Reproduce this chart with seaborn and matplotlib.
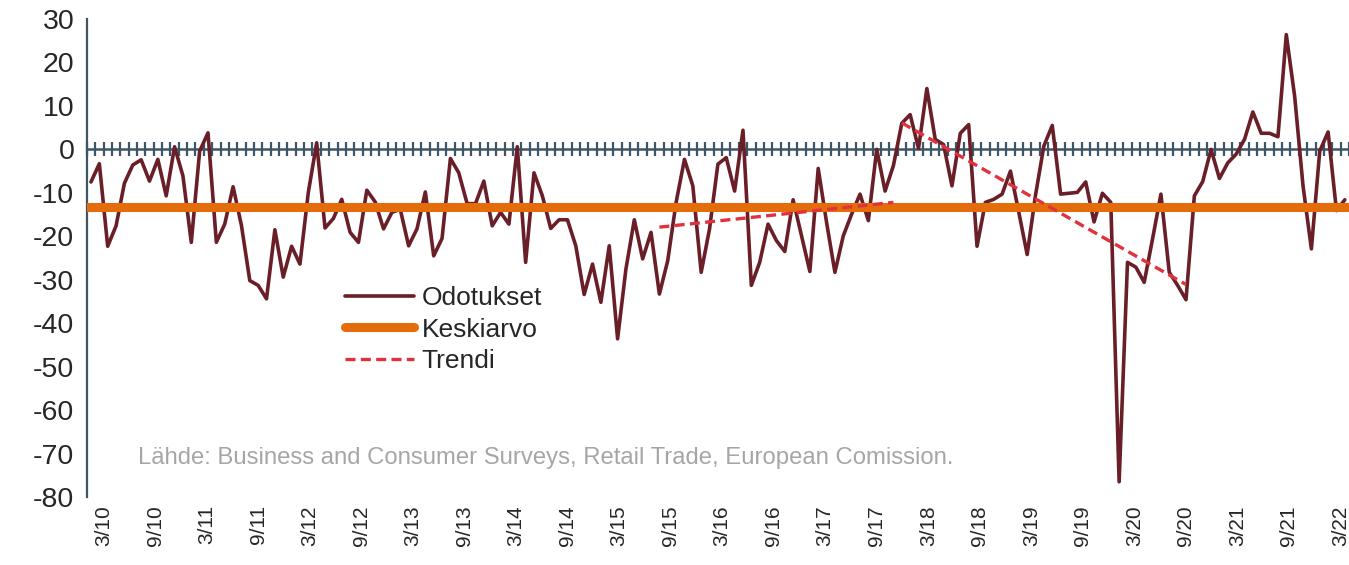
import numpy as np
import pandas as pd
import matplotlib
matplotlib.use("Agg")
import matplotlib.pyplot as plt
import seaborn as sns

# Monthly retail trade expectations (balance), Jan 2010 - Jul 2022
months = pd.date_range("2010-01-01", periods=151, freq="MS")
odotukset = [
    -7.5, -3.3, -22.3, -17.6, -7.8, -3.6, -2.4, -7.3, -2.3, -10.7,
    0.6, -6.1, -21.4, -0.4, 3.8, -21.4, -17.2, -8.6, -17.5, -30.2,
    -31.3, -34.4, -18.5, -29.4, -22.3, -26.4, -9.9, 1.5, -18.1, -15.9,
    -11.5, -19.1, -21.4, -9.4, -12.1, -18.3, -14.5, -13.8, -22.2, -18.3,
    -9.8, -24.5, -20.5, -2.1, -5.4, -12.5, -12.5, -7.3, -17.6, -14.5,
    -17.2, 0.6, -26.0, -5.4, -10.7, -18.2, -16.2, -16.2, -22.2, -33.4,
    -26.4, -35.2, -22.2, -43.6, -27.5, -16.2, -25.2, -19.1, -33.3, -25.6,
    -12.2, -2.3, -8.4, -28.3, -18.3, -3.4, -1.9, -9.6, 4.4, -31.3,
    -26.0, -17.2, -21.0, -23.5, -11.6, -19.9, -28.1, -4.4, -16.8, -28.3,
    -19.9, -14.9, -10.3, -16.4, 0.0, -9.6, -3.7, 6.0, 8.0, 0.2,
    14.0, 2.3, 1.1, -8.4, 3.7, 5.7, -22.3, -12.2, -11.5, -10.3,
    -5.0, -14.5, -24.2, -10.5, 0.8, 5.5, -10.3, -10.1, -9.9, -7.5,
    -16.7, -10.1, -12.2, -76.5, -26.0, -27.1, -30.6, -20.6, -10.3, -28.3,
    -31.3, -34.6, -10.7, -7.4, 0.0, -6.7, -3.1, -1.1, 2.3, 8.6,
    3.7, 3.7, 2.9, 26.4, 12.2, -8.4, -22.9, -0.4, 4.0, -14.1,
    -11.6,
]
keskiarvo = -13.2
# trend segments: (month index, value) at start and end
trendi1_idx = [68, 96]
trendi1_val = [-17.9, -12.2]
trendi2_idx = [97, 131]
trendi2_val = [6.1, -31.1]

# the category axis that carries the labels: Jan 2010 - Apr 2022
label_months = pd.date_range("2010-01-01", periods=148, freq="MS")
label_text = [f"{d.month}/{d.year % 100:02d}" for d in label_months]

df = pd.DataFrame({"i": np.arange(len(odotukset)), "Odotukset": odotukset})

maroon = "#6A1F28"
orange = "#E46C0A"
red = "#E0323C"
slate = "#3E5566"

sns.set_theme(style="white")
plt.rcParams["font.family"] = ["Liberation Sans", "DejaVu Sans"]
plt.rcParams["axes.unicode_minus"] = False

fig = plt.figure(figsize=(13.49, 5.65), dpi=100)
ax = fig.add_axes([86.8 / 1349, 68 / 565, 1 - 86.8 / 1349, 478 / 565])

sns.lineplot(data=df, x="i", y="Odotukset", ax=ax, color=maroon, lw=2.6,
             label="Odotukset", zorder=3)
ax.axhline(keskiarvo, color=orange, lw=6.5, solid_capstyle="round",
           label="Keskiarvo", zorder=4)
ax.plot(trendi1_idx, trendi1_val, color=red, lw=2.4, dashes=(3, 1.6),
        label="Trendi", zorder=5)
ax.plot(trendi2_idx, trendi2_val, color=red, lw=2.4, dashes=(3, 1.6), zorder=5)

n = len(odotukset)
ax.set_xlim(-0.5, n - 0.5)
ax.set_ylim(-80, 30)
ax.set_yticks(range(-80, 31, 10))
ax.set_xlabel("")
ax.set_ylabel("")
ax.set_xticks([])
ax.tick_params(axis="y", direction="inout", length=12, width=1.6,
               color=slate, labelsize=20.5, pad=3)

for s in ["top", "right", "bottom"]:
    ax.spines[s].set_visible(False)
ax.spines["left"].set_color(slate)
ax.spines["left"].set_linewidth(1.6)

# label axis: 148 categories spread over the full width
m = len(label_months) - 1
lab = ax.secondary_xaxis("bottom",
                         functions=(lambda x: (x + 0.5) * m / n,
                                    lambda c: c * n / m - 0.5))
lab.spines["bottom"].set_visible(False)
pos = [k for k, d in enumerate(label_months) if d.month in (3, 9)]
lab.set_xticks(pos)
lab.set_xticklabels([label_text[k] for k in pos], rotation=90, fontsize=15)
lab.tick_params(length=0, pad=6)

# zero line with monthly tick marks
zax = ax.secondary_xaxis(0, transform=ax.transData)
zax.spines["bottom"].set_color(slate)
zax.spines["bottom"].set_linewidth(1.8)
zax.set_xticks(np.arange(-0.5, n, 1))
zax.tick_params(direction="inout", length=10, width=1.6, color=slate,
                labelbottom=False)

leg = ax.legend(loc="upper left", bbox_to_anchor=(345 / 1349, 1 - 286 / 565),
                bbox_transform=fig.transFigure, frameon=False, fontsize=19,
                handlelength=2.6, handletextpad=0.3, labelspacing=0.29,
                borderpad=0, borderaxespad=0)

fig.text(138 / 1349, 1 - 458 / 565,
         "Lähde: Business and Consumer Surveys, Retail Trade, European Comission.",
         color="#A6A6A6", fontsize=17.2, va="center")

fig.savefig("out.png", dpi=100)
